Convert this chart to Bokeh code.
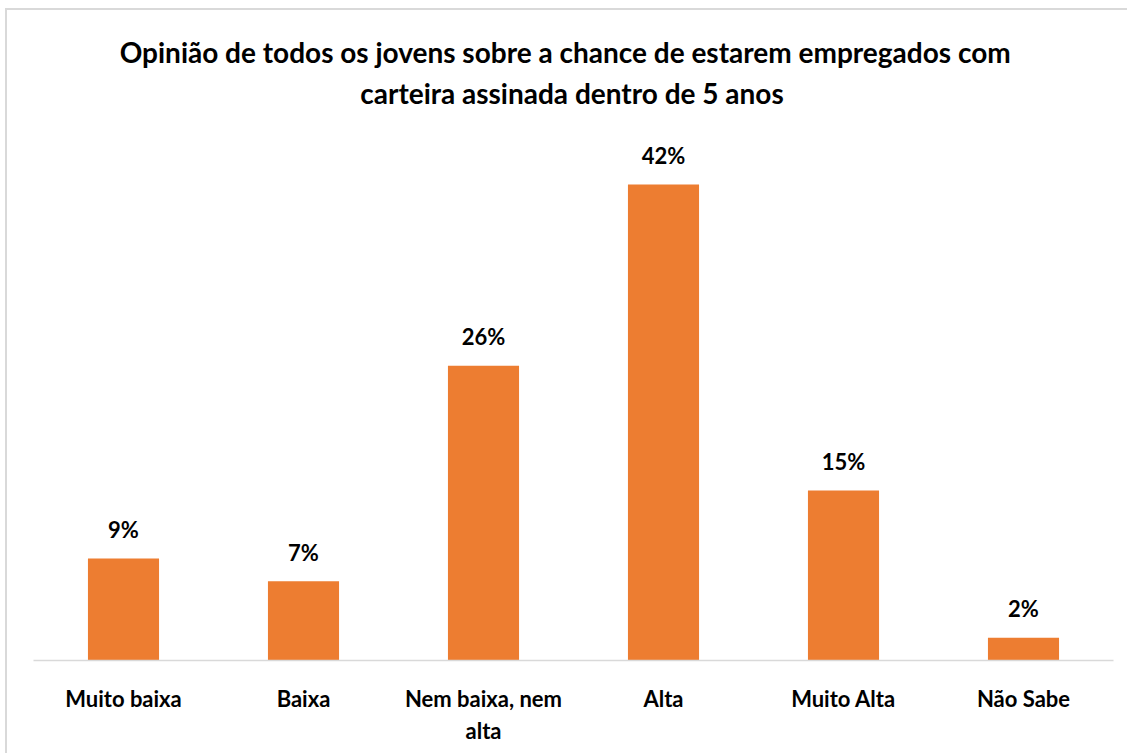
from bokeh.plotting import figure
from bokeh.models import ColumnDataSource, Label, Range1d
from bokeh.core.properties import value
from bokeh.embed import file_html
from bokeh.resources import INLINE

categories = ["Muito baixa", "Baixa", "Nem baixa, nem\nalta", "Alta", "Muito Alta", "Não Sabe"]
values = [9, 7, 26, 42, 15, 2]
labels = ["9%", "7%", "26%", "42%", "15%", "2%"]
title_line1 = "Opinião de todos os jovens sobre a chance de  estarem  empregados com"
title_line2 = "carteira assinada dentro de 5 anos"

FONT = "Lato"
BAR = "#ED7D31"

src = ColumnDataSource(dict(cat=categories, val=values, lab=labels))

p = figure(width=1122, height=745, x_range=categories, y_range=Range1d(0, 57.35),
           output_backend="svg", toolbar_location=None,
           min_border_left=26, min_border_right=16, min_border_bottom=95, min_border_top=0)
p.styles = {"border-left": "2px solid #d9d9d9", "border-top": "2px solid #d9d9d9",
            "margin-left": "5px", "margin-top": "8px"}

p.vbar(x="cat", top="val", width=0.395, source=src, color=BAR, line_color=None)
p.text(x="cat", y="val", text="lab", source=src, text_align="center", text_baseline="alphabetic",
       y_offset=-29, text_font=value(FONT), text_font_style="bold", text_font_size="22px",
       text_color="#000000")

for txt, yy in ((title_line1, 609), (title_line2, 568)):
    p.add_layout(Label(x=538.5, y=yy, x_units="screen", y_units="screen", text=txt,
                       text_align="center", text_baseline="alphabetic", text_font=FONT,
                       text_font_style="bold", text_font_size="28px", text_color="#000000"))

p.yaxis.visible = False
p.xgrid.grid_line_color = None
p.ygrid.grid_line_color = None
p.outline_line_color = None
p.xaxis.axis_line_color = "#d9d9d9"
p.xaxis.axis_line_width = 1.5
p.xaxis.major_tick_line_color = None
p.xaxis.minor_tick_line_color = None
p.xaxis.major_label_standoff = 18
p.xaxis.major_label_text_font = FONT
p.xaxis.major_label_text_font_style = "bold"
p.xaxis.major_label_text_font_size = "22px"
p.xaxis.major_label_text_color = "#000000"
p.x_range.range_padding = 0

open("out.html", "w").write(file_html(p, INLINE))
